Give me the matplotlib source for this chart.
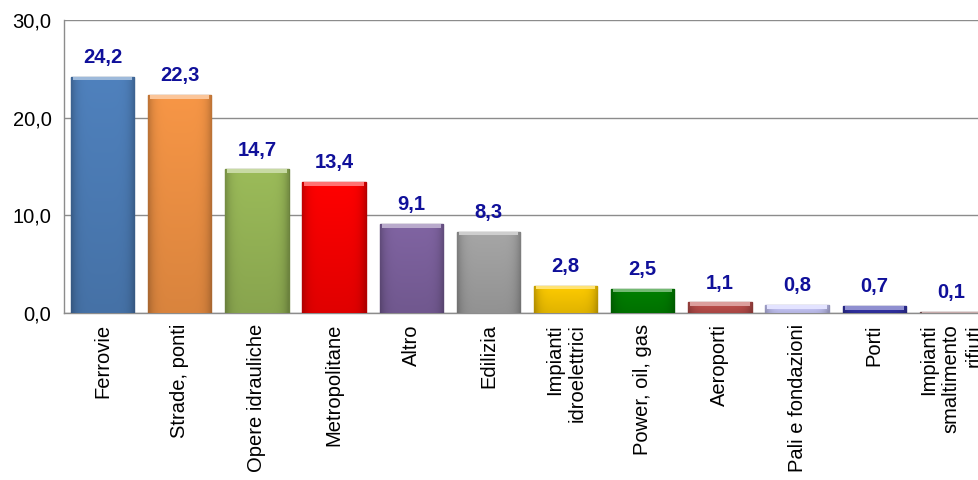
import numpy as np
import matplotlib
matplotlib.use("Agg")
import matplotlib.pyplot as plt

# --- data ---
categories = ["Ferrovie", "Strade, ponti", "Opere idrauliche", "Metropolitane",
              "Altro", "Edilizia", "Impianti\nidroelettrici", "Power, oil, gas",
              "Aeroporti", "Pali e fondazioni", "Porti",
              "Impianti\nsmaltimento\nrifiuti"]
values = [24.2, 22.3, 14.7, 13.4, 9.1, 8.3, 2.8, 2.5, 1.1, 0.8, 0.7, 0.1]
colors = ["#4F81BD", "#F79646", "#9BBB59", "#FF0000", "#8064A2", "#A6A6A6",
          "#FFCC00", "#008000", "#C0504D", "#CCCCFF", "#3333AA", "#996666"]
yticks = [0, 10, 20, 30]

plt.rcParams['font.family'] = ['Liberation Sans', 'DejaVu Sans']

fig = plt.figure(figsize=(9.79, 4.8), dpi=100)
# axes runs slightly past the right edge, like the reference crop
ax = fig.add_axes([64 / 979, 167 / 480, 926 / 979, 293 / 480])

x = np.arange(len(categories))
width = 0.82


def darker(c, f=0.7):
    r, g, b = matplotlib.colors.to_rgb(c)
    return (r * f, g * f, b * f)


def lighter(c, f=0.45):
    r, g, b = matplotlib.colors.to_rgb(c)
    return (r + (1 - r) * f, g + (1 - g) * f, b + (1 - b) * f)


bars = ax.bar(x, values, width=width, color=colors,
              edgecolor=[darker(c) for c in colors], linewidth=1, zorder=3)

# shading inside each bar: darker towards the sides and the bottom
u = np.linspace(-1, 1, 40)
w = np.linspace(0, 1, 60)[:, None]
shade = (1 - 0.22 * np.abs(u) ** 6)[None, :] * (0.88 + 0.12 * w)
for b, c in zip(bars, colors):
    rgb = np.array(matplotlib.colors.to_rgb(c))
    img = np.clip(shade[:, :, None] * rgb[None, None, :], 0, 1)
    x0 = b.get_x()
    im = ax.imshow(img, extent=(x0, x0 + b.get_width(), 0, b.get_height()),
                   origin="lower", aspect="auto", zorder=3.5,
                   interpolation="bilinear")
    im.set_clip_path(b)

# light band at the top of each bar for the bevel look
for xi, v, c in zip(x, values, colors):
    band = min(0.35, v)
    ax.bar(xi, band, bottom=v - band, width=width - 0.05, color=lighter(c),
           linewidth=0, zorder=4)

for xi, v in zip(x, values):
    ax.annotate(f"{v:.1f}".replace(".", ","), (xi, v), xytext=(0, 7),
                textcoords="offset points", ha="center", va="bottom",
                fontsize=14.5, fontweight="bold", color="#10109A")

ax.set_xlim(-0.5, len(categories) - 0.5)
ax.set_ylim(0, 30)
ax.set_yticks(yticks)
ax.set_yticklabels([f"{t:.1f}".replace(".", ",") for t in yticks], fontsize=14.5)
ax.yaxis.grid(True, color="#8C8C8C", linewidth=1, zorder=0)

ax.set_xticks(x)
ax.set_xticklabels(categories, rotation=90, fontsize=14.5, va="top",
                   ha="center", multialignment="right", linespacing=1.25)
ax.tick_params(axis="both", length=0)
ax.tick_params(axis="y", pad=9)
ax.tick_params(axis="x", pad=8)

for side in ["top", "right"]:
    ax.spines[side].set_visible(False)
for side in ["left", "bottom"]:
    ax.spines[side].set_color("#8C8C8C")
    ax.spines[side].set_linewidth(1)

fig.savefig("out.png", dpi=100)
